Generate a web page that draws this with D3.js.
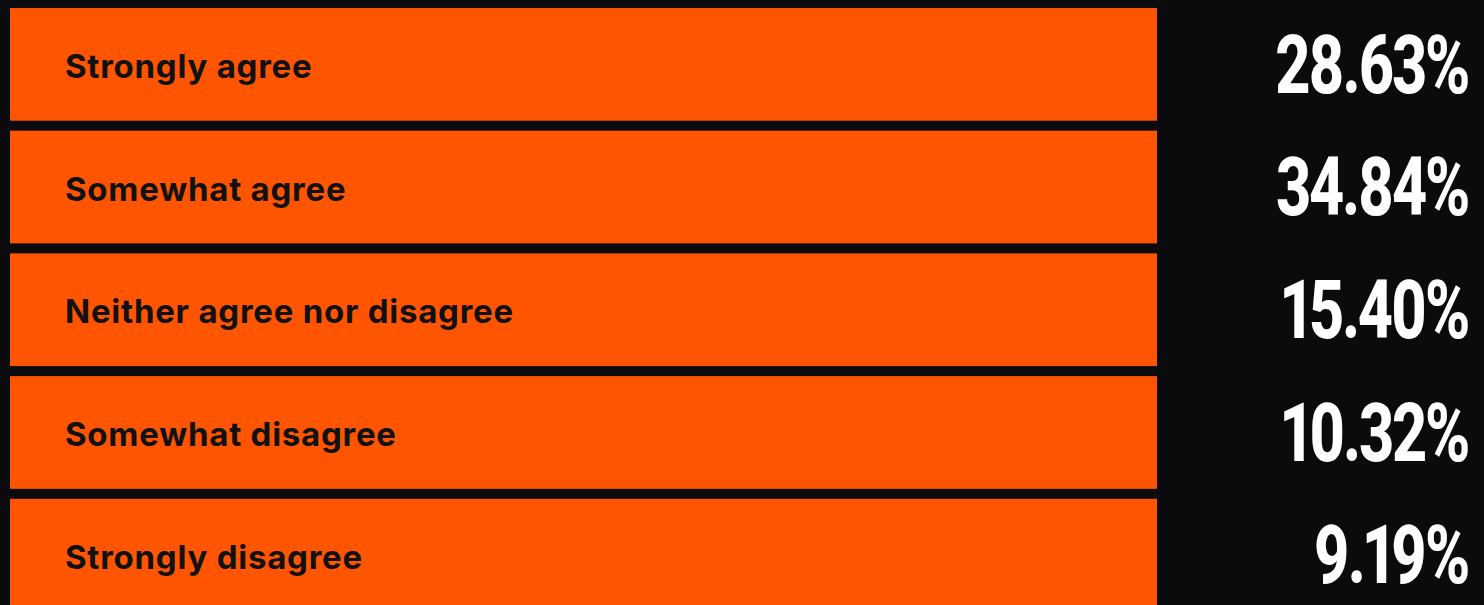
<!DOCTYPE html>
<html>
<head>
<meta charset="utf-8">
<script src="https://cdn.jsdelivr.net/npm/d3@7"></script>
<style>
  html, body { margin: 0; padding: 0; background: #0b0b0d; }
  svg { display: block; }
</style>
</head>
<body>
<svg id="chart" width="1484" height="605"></svg>
<script>
var categories = ["Strongly agree", "Somewhat agree", "Neither agree nor disagree", "Somewhat disagree", "Strongly disagree"];
var shares = [28.63, 34.84, 15.40, 10.32, 9.19];

var svg = d3.select("#chart"),
    width = +svg.attr("width"),
    height = +svg.attr("height");

var y = d3.scaleBand()
    .domain(categories)
    .range([8, 611.5])
    .paddingInner(0.0815)
    .paddingOuter(0);

var barLeft = 10, barRight = 1157;

svg.append("rect")
    .attr("width", width)
    .attr("height", height)
    .attr("fill", "#0b0b0d");

var rows = svg.selectAll(".row")
    .data(categories)
    .enter().append("g")
    .attr("class", "row");

rows.append("rect")
    .attr("x", barLeft)
    .attr("y", function (d) { return y(d); })
    .attr("width", barRight - barLeft)
    .attr("height", y.bandwidth())
    .attr("fill", "#ff5500");

rows.append("text")
    .attr("x", 65)
    .attr("y", function (d) { return y(d) + y.bandwidth() / 2 + 2; })
    .attr("dy", "0.35em")
    .attr("font-family", "Inter, 'Noto Sans', sans-serif")
    .attr("font-weight", 650)
    .attr("font-size", "33px")
    .attr("letter-spacing", "0.75px")
    .attr("fill", "#111111")
    .text(function (d) { return d; });

// condensed value labels: squeeze a bold face horizontally
var sx = 0.755;
rows.append("g")
    .attr("transform", function (d) {
        return "translate(1468," + (y(d) + y.bandwidth() / 2 - 1) + ") scale(" + sx + ",1)";
    })
    .append("text")
    .attr("x", 0)
    .attr("y", 0)
    .attr("dy", "0.36em")
    .attr("text-anchor", "end")
    .attr("font-family", "Roboto, 'Liberation Sans', sans-serif")
    .attr("font-weight", 800)
    .attr("font-size", "81px")
    .attr("letter-spacing", "-3px")
    .style("font-variant-numeric", "proportional-nums")
    .attr("fill", "#ffffff")
    .text(function (d, i) { return shares[i].toFixed(2) + "%"; });
</script>
</body>
</html>
